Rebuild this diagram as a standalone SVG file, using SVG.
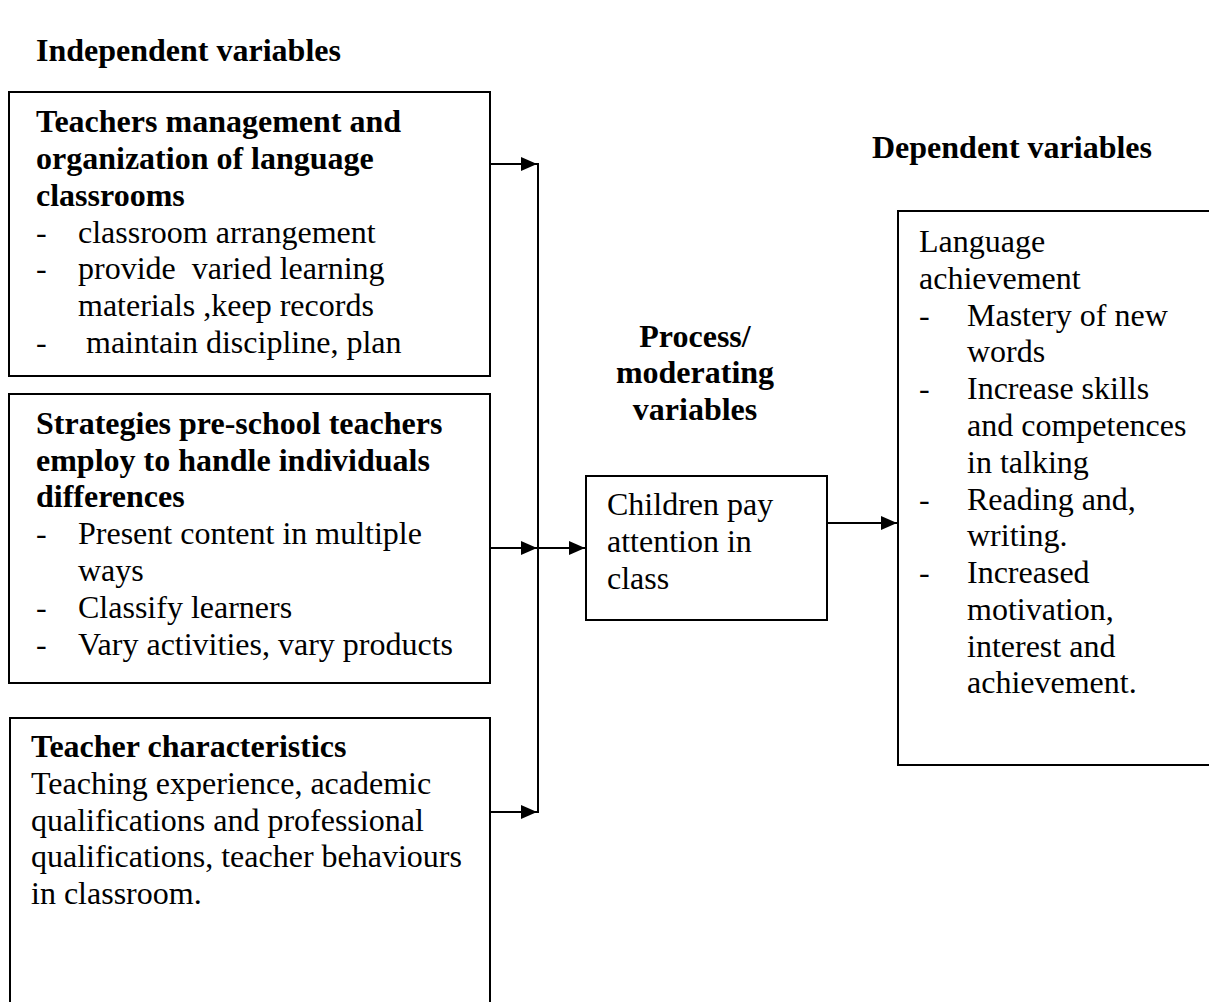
<svg xmlns="http://www.w3.org/2000/svg" width="1209" height="1002" viewBox="0 0 1209 1002">
<style>
text{font-family:"Liberation Serif","Times New Roman",serif;font-size:32px;fill:#000}
.b{font-weight:bold}
.box{fill:#fff;stroke:#000;stroke-width:2}
.c{fill:none;stroke:#000;stroke-width:2}
</style>
<defs>
<marker id="ah" markerUnits="userSpaceOnUse" markerWidth="16" markerHeight="14" refX="16" refY="7" orient="auto">
<path d="M0,0 L16,7 L0,14 z" fill="#000"/>
</marker>
</defs>
<rect width="1209" height="1002" fill="#fff"/>
<g id="labels">
<text class="b" x="36" y="61">Independent variables</text>
<text class="b" x="872" y="158">Dependent variables</text>
<text class="b" x="695" y="347" text-anchor="middle">Process/</text>
<text class="b" x="695" y="383" text-anchor="middle">moderating</text>
<text class="b" x="695" y="420" text-anchor="middle">variables</text>
</g>
<g id="node-management">
<rect class="box" x="9" y="92" width="481" height="284"/>
<text class="b" x="36" y="132">Teachers management and</text>
<text class="b" x="36" y="169">organization of language</text>
<text class="b" x="36" y="206">classrooms</text>
<text x="36" y="243">-</text><text x="78" y="243">classroom arrangement</text>
<text x="36" y="279">-</text><text x="78" y="279" xml:space="preserve">provide  varied learning</text>
<text x="78" y="316">materials ,keep records</text>
<text x="36" y="353">-</text><text x="86" y="353">maintain discipline, plan</text>
</g>
<g id="node-strategies">
<rect class="box" x="9" y="394" width="481" height="289"/>
<text class="b" x="36" y="434">Strategies pre-school teachers</text>
<text class="b" x="36" y="471">employ to handle individuals</text>
<text class="b" x="36" y="507">differences</text>
<text x="36" y="544">-</text><text x="78" y="544">Present content in multiple</text>
<text x="78" y="581">ways</text>
<text x="36" y="618">-</text><text x="78" y="618">Classify learners</text>
<text x="36" y="655">-</text><text x="78" y="655">Vary activities, vary products</text>
</g>
<g id="node-characteristics">
<rect class="box" x="10" y="718" width="480" height="300"/>
<text class="b" x="31" y="757">Teacher characteristics</text>
<text x="31" y="794">Teaching experience, academic</text>
<text x="31" y="831">qualifications and professional</text>
<text x="31" y="867">qualifications, teacher behaviours</text>
<text x="31" y="904">in classroom.</text>
</g>
<g id="node-attention">
<rect class="box" x="586" y="476" width="241" height="144"/>
<text x="607" y="515">Children pay</text>
<text x="607" y="552">attention in</text>
<text x="607" y="589">class</text>
</g>
<g id="node-achievement">
<rect class="box" x="898" y="211" width="320" height="554"/>
<text x="919" y="252">Language</text>
<text x="919" y="289">achievement</text>
<text x="919" y="326">-</text><text x="967" y="326">Mastery of new</text>
<text x="967" y="362">words</text>
<text x="919" y="399">-</text><text x="967" y="399">Increase skills</text>
<text x="967" y="436">and competences</text>
<text x="967" y="473">in talking</text>
<text x="919" y="510">-</text><text x="967" y="510">Reading and,</text>
<text x="967" y="546">writing.</text>
<text x="919" y="583">-</text><text x="967" y="583">Increased</text>
<text x="967" y="620">motivation,</text>
<text x="967" y="657">interest and</text>
<text x="967" y="693">achievement.</text>
</g>
<g id="connectors">
<line class="c" x1="538" y1="163" x2="538" y2="813"/>
<line class="c" x1="490" y1="164" x2="537" y2="164" marker-end="url(#ah)"/>
<line class="c" x1="490" y1="548" x2="537" y2="548" marker-end="url(#ah)"/>
<line class="c" x1="490" y1="812" x2="537" y2="812" marker-end="url(#ah)"/>
<line class="c" x1="538" y1="548" x2="585" y2="548" marker-end="url(#ah)"/>
<line class="c" x1="827" y1="523" x2="897" y2="523" marker-end="url(#ah)"/>
</g>
</svg>
